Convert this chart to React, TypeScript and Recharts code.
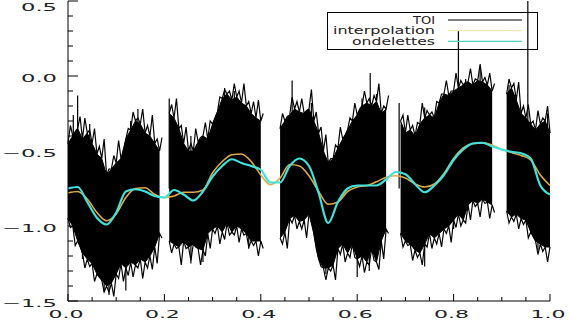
import { ComposedChart, Area, Line, XAxis, YAxis, Legend } from 'recharts';

// TOI signal: top and bottom of the solid noise band, read every 0.01 (null = gap in the data)
const toiHigh = [
  -0.45, -0.4, -0.35, -0.42, -0.38, -0.45, -0.52, -0.55, -0.66, -0.62,
  -0.58, -0.55, -0.42, -0.36, -0.3, -0.32, -0.38, -0.4, -0.45, -0.5,
  null, -0.25, -0.28, -0.35, -0.45, -0.5, -0.5, -0.44, -0.4, -0.42,
  -0.32, -0.24, -0.15, -0.12, -0.16, -0.14, -0.18, -0.2, -0.25, -0.28,
  -0.3, null, null, null, -0.35, -0.3, -0.26, -0.22, -0.24, -0.25,
  -0.22, -0.3, -0.38, -0.5, -0.58, -0.55, -0.48, -0.42, -0.36, -0.3,
  -0.26, -0.2, -0.18, -0.2, -0.17, -0.25, -0.22, null, null, -0.3,
  -0.38, -0.36, -0.4, -0.32, -0.28, -0.26, -0.28, -0.18, -0.12, -0.13,
  -0.1, -0.08, -0.06, -0.04, -0.06, -0.03, -0.04, -0.06, -0.1, null,
  null, -0.12, -0.08, -0.16, -0.25, -0.28, -0.32, -0.36, -0.32, -0.3,
  -0.38,
];
const toiLow = [
  -0.95, -1.0, -1.1, -1.18, -1.22, -1.25, -1.32, -1.36, -1.4, -1.38,
  -1.32, -1.25, -1.28, -1.24, -1.26, -1.22, -1.24, -1.2, -1.14, -1.05,
  null, -1.1, -1.12, -1.14, -1.1, -1.14, -1.12, -1.15, -1.16, -1.05,
  -1.02, -1.0, -1.04, -0.98, -1.04, -1.0, -1.02, -1.05, -1.1, -1.1,
  -1.1, null, null, null, -1.08, -1.04, -0.95, -0.93, -0.97, -0.96,
  -0.92, -1.05, -1.22, -1.28, -1.28, -1.26, -1.15, -1.12, -1.18, -1.12,
  -1.22, -1.2, -1.24, -1.15, -1.24, -1.1, -1.02, null, null, -1.05,
  -1.1, -1.12, -1.16, -1.18, -1.12, -1.05, -1.08, -1.05, -1.02, -1.0,
  -0.96, -0.92, -0.96, -0.86, -0.83, -0.85, -0.82, -0.84, -0.86, null,
  null, -0.9, -0.94, -0.92, -0.95, -0.96, -1.04, -1.1, -1.12, -1.14,
  -1.14,
];
// ragged fringe: outermost sample between two band points (at +0.005)
const toiPeak = [
  -0.33, -0.37, -0.27, -0.28, -0.36, -0.35, -0.47, -0.42, -0.62, -0.53,
  -0.43, -0.52, -0.35, -0.24, -0.28, -0.22, -0.33, -0.26, -0.42, -0.41,
  null, -0.19, -0.15, -0.33, -0.34, -0.45, -0.35, -0.41, -0.31, -0.3,
  -0.28, -0.14, -0.09, -0.1, -0.05, -0.1, -0.05, -0.17, -0.17, -0.16,
  -0.25, null, null, null, -0.25, -0.27, -0.14, -0.17, -0.15, -0.23,
  -0.09, -0.24, -0.34, -0.39, -0.55, -0.46, -0.34, -0.4, -0.28, -0.18,
  -0.22, -0.1, -0.15, -0.13, -0.05, -0.2, -0.13, null, null, -0.26,
  -0.26, -0.33, -0.31, -0.18, -0.23, -0.24, -0.17, -0.12, -0.03, -0.1,
  0.02, -0.03, -0.04, 0.05, -0.02, 0.08, -0.01, 0.02, -0.05, null,
  null, -0.02, -0.05, -0.04, -0.2, -0.19, -0.3, -0.23, -0.28, -0.2,
];
const toiTrough = [
  -1.01, -1.13, -1.13, -1.28, -1.27, -1.37, -1.34, -1.44, -1.44, -1.47,
  -1.35, -1.37, -1.33, -1.34, -1.28, -1.35, -1.28, -1.29, -1.25, -1.08,
  null, -1.18, -1.15, -1.26, -1.15, -1.23, -1.14, -1.26, -1.2, -1.15,
  -1.05, -1.12, -1.09, -1.06, -1.06, -1.11, -1.06, -1.14, -1.13, -1.2,
  -1.15, null, null, null, -1.12, -1.15, -0.98, -1.02, -1.02, -1.08,
  -0.95, -1.15, -1.27, -1.36, -1.3, -1.36, -1.19, -1.24, -1.21, -1.21,
  -1.27, -1.31, -1.26, -1.23, -1.29, -1.22, -1.05, null, null, -1.14,
  -1.13, -1.23, -1.21, -1.26, -1.14, -1.15, -1.12, -1.14, -1.05, -1.11,
  -1.01, -1.0, -0.98, -0.96, -0.87, -0.94, -0.85, -0.95, -0.91, null,
  null, -0.98, -0.97, -1.02, -0.99, -1.08, -1.07, -1.19, -1.17, -1.24,
];

// single noise samples sticking far out of the band: position and tip value
const spikeX = [
  0.011, 0.02, 0.045, 0.13, 0.145, 0.21, 0.255, 0.325, 0.345, 0.465, 0.505, 0.61, 0.627, 0.64,
  0.687, 0.74, 0.81, 0.825, 0.855, 0.915, 0.954, 0.995,
  0.03, 0.075, 0.085, 0.12, 0.255, 0.28, 0.375, 0.535, 0.6, 0.625, 0.74, 0.8, 0.975,
];
const spikeTip = [
  -0.26, -0.13, -0.32, -0.3, -0.22, -0.15, -0.4, -0.08, -0.1, -0.03, -0.18, -0.15, 0.02, -0.12,
  -0.18, -0.21, 0.3, -0.02, 0.05, -0.06, 0.55, -0.25,
  -1.22, -1.44, -1.46, -1.43, -1.25, -1.24, -1.15, -1.32, -1.34, -1.3, -1.27, -1.02, -1.16,
];
const SPIKE_BASE = -0.75;

// smooth reconstructions, read every 0.02
const curveX = [
  0, 0.02, 0.04, 0.06, 0.08, 0.1, 0.12, 0.14, 0.16, 0.18,
  0.2, 0.22, 0.24, 0.26, 0.28, 0.3, 0.32, 0.34, 0.36, 0.38,
  0.4, 0.42, 0.44, 0.46, 0.48, 0.5, 0.52, 0.54, 0.56, 0.58,
  0.6, 0.62, 0.64, 0.66, 0.68, 0.7, 0.72, 0.74, 0.76, 0.78,
  0.8, 0.82, 0.84, 0.86, 0.88, 0.9, 0.92, 0.94, 0.96, 0.98, 1,
];
const interpolation = [
  -0.78, -0.77, -0.82, -0.91, -0.965, -0.92, -0.81, -0.75, -0.745, -0.79,
  -0.81, -0.8, -0.775, -0.775, -0.76, -0.645, -0.57, -0.525, -0.52, -0.57,
  -0.66, -0.725, -0.68, -0.59, -0.6, -0.665, -0.77, -0.855, -0.84, -0.77,
  -0.74, -0.73, -0.705, -0.675, -0.665, -0.68, -0.72, -0.74, -0.72, -0.65,
  -0.55, -0.48, -0.45, -0.446, -0.46, -0.49, -0.51, -0.53, -0.56, -0.66, -0.73,
];
const ondelettes = [
  -0.75, -0.74, -0.84, -0.945, -0.99, -0.91, -0.77, -0.755, -0.77, -0.8,
  -0.81, -0.76, -0.79, -0.83, -0.77, -0.67, -0.6, -0.555, -0.58, -0.6,
  -0.625, -0.71, -0.71, -0.6, -0.55, -0.6, -0.78, -0.98, -0.84, -0.75,
  -0.73, -0.73, -0.73, -0.69, -0.64, -0.655, -0.72, -0.775, -0.73, -0.66,
  -0.56, -0.49, -0.45, -0.445, -0.47, -0.49, -0.505, -0.515, -0.55, -0.73, -0.79,
];

const xTicks = [0, 0.05, 0.1, 0.15, 0.2, 0.25, 0.3, 0.35, 0.4, 0.45, 0.5, 0.55, 0.6, 0.65, 0.7, 0.75, 0.8, 0.85, 0.9, 0.95, 1];
const xMajor = [0, 0.2, 0.4, 0.6, 0.8, 1];
const yTicks = [-1.5, -1.4, -1.3, -1.2, -1.1, -1, -0.9, -0.8, -0.7, -0.6, -0.5, -0.4, -0.3, -0.2, -0.1, 0, 0.1, 0.2, 0.3, 0.4, 0.5];
const yMajor = [-1.5, -1, -0.5, 0, 0.5];

const INTERP = '#e0a848';
const WAVE = '#3fe3dc';
const FONT = '"DejaVu Sans", sans-serif';

const bandData = toiHigh.map((hi, i) => ({
  x: i / 100,
  band: hi === null || toiLow[i] === null ? null : [toiLow[i], hi],
}));
// zig-zag between the band edge and the fringe sample next to it
const fringe = (edge: (number | null)[], outer: (number | null)[]) =>
  edge.flatMap((v, i) => {
    const pts = [{ x: i / 100, f: v }];
    if (i < outer.length) pts.push({ x: i / 100 + 0.005, f: outer[i] });
    return pts;
  });
const topFringe = fringe(toiHigh, toiPeak);
const bottomFringe = fringe(toiLow, toiTrough);
const spikeData = spikeX.flatMap((x, i) => [
  { x, s: SPIKE_BASE },
  { x, s: spikeTip[i] },
  { x, s: null },
]);
const curveData = curveX.map((x, i) => ({ x, interpolation: interpolation[i], ondelettes: ondelettes[i] }));

const isMajor = (list: number[], v: number) => list.some((m) => Math.abs(m - v) < 1e-6);
const yLabel = (v: number) => (v < 0 ? '\u2212' + Math.abs(v).toFixed(1) : v.toFixed(1));

const BottomTick = ({ x, y, payload }: any) => {
  const major = isMajor(xMajor, payload.value);
  return (
    <g>
      <line x1={x} x2={x} y1={y} y2={y - (major ? 7 : 4)} stroke="#000" />
      {major && (
        <text x={x - 2} y={y + 17} textAnchor="middle" textLength={35} lengthAdjust="spacingAndGlyphs"
          fontFamily={FONT} fontSize={10} fill="#222">
          {payload.value.toFixed(1)}
        </text>
      )}
    </g>
  );
};

const TopTick = ({ x, y, payload }: any) => (
  <line x1={x} x2={x} y1={y} y2={y + (isMajor(xMajor, payload.value) ? 7 : 4)} stroke="#000" />
);

const LeftTick = ({ x, y, payload }: any) => {
  const major = isMajor(yMajor, payload.value);
  const label = yLabel(payload.value);
  return (
    <g>
      <line x1={x} x2={x + (major ? 10 : 5)} y1={y} y2={y} stroke="#000" />
      {major && (
        <text x={x - 11} y={Math.max(y + 5.5, 10.5)} textAnchor="end" textLength={label.length > 3 ? 55 : 36}
          lengthAdjust="spacingAndGlyphs" fontFamily={FONT} fontSize={10} fill="#222">
          {label}
        </text>
      )}
    </g>
  );
};

const RightTick = ({ x, y, payload }: any) => (
  <line x1={x} x2={x - (isMajor(yMajor, payload.value) ? 10 : 5)} y1={y} y2={y} stroke="#000" />
);

const legendTint: Record<string, string> = { TOI: '#000', interpolation: '#f3e9b4', ondelettes: '#52d2b8' };
const legendLabelWidth: Record<string, number> = { TOI: 22, interpolation: 102, ondelettes: 83 };

const LegendBox = ({ payload }: any) => (
  <svg width={211} height={38} style={{ display: 'block' }}>
    <rect x={0.5} y={0.5} width={210} height={37} fill="none" stroke="#000" />
    {(payload || [])
      .filter((item: any) => legendTint[item.value])
      .map((item: any, i: number) => {
        const cy = 8 + i * 10.7;
        return (
          <g key={item.value}>
            <text x={108} y={cy + 3.5} textAnchor="end" textLength={legendLabelWidth[item.value]}
              lengthAdjust="spacingAndGlyphs" fontFamily={FONT} fontSize={10} fill="#222">
              {item.value}
            </text>
            <line x1={121} x2={195} y1={cy} y2={cy} stroke={legendTint[item.value]} strokeWidth={1.2} />
          </g>
        );
      })}
  </svg>
);

export default function App() {
  return (
    <>
      <style>{'body{margin:0;background:#fff}'}</style>
      <ComposedChart width={569} height={325} margin={{ top: 1, right: 19, bottom: 0, left: 0 }}>
        <XAxis xAxisId="b" type="number" dataKey="x" domain={[0, 1]} ticks={xTicks} interval={0}
          height={24} tickSize={0} tickMargin={0} tickLine={false} stroke="#000" tick={BottomTick} />
        <XAxis xAxisId="t" orientation="top" type="number" dataKey="x" domain={[0, 1]} ticks={xTicks} interval={0}
          height={0} tickSize={0} tickMargin={0} tickLine={false} stroke="#000" tick={TopTick} />
        <YAxis yAxisId="l" type="number" domain={[-1.5, 0.5]} allowDataOverflow ticks={yTicks} interval={0}
          width={68} tickSize={0} tickMargin={0} tickLine={false} stroke="#000" tick={LeftTick} />
        <YAxis yAxisId="r" orientation="right" type="number" domain={[-1.5, 0.5]} allowDataOverflow ticks={yTicks}
          interval={0} width={0} tickSize={0} tickMargin={0} tickLine={false} stroke="#000" tick={RightTick} />
        <Legend layout="horizontal" verticalAlign="middle" content={LegendBox}
          wrapperStyle={{ position: 'absolute', left: 327, top: 12, width: 211, height: 38 }} />
        <Area xAxisId="b" yAxisId="l" data={bandData} dataKey="band" name="TOI" type="linear" stroke="#000"
          strokeWidth={1} fill="#000" fillOpacity={1} connectNulls={false} dot={false} activeDot={false}
          legendType="line" isAnimationActive={false} />
        <Line xAxisId="b" yAxisId="l" data={topFringe} dataKey="f" name="fringe-top" type="linear" stroke="#000"
          strokeWidth={1.2} dot={false} connectNulls={false} legendType="none" isAnimationActive={false} />
        <Line xAxisId="b" yAxisId="l" data={bottomFringe} dataKey="f" name="fringe-bottom" type="linear" stroke="#000"
          strokeWidth={1.2} dot={false} connectNulls={false} legendType="none" isAnimationActive={false} />
        <Line xAxisId="b" yAxisId="l" data={spikeData} dataKey="s" name="spikes" type="linear" stroke="#000"
          strokeWidth={1.2} dot={false} connectNulls={false} legendType="none" isAnimationActive={false} />
        <Line xAxisId="b" yAxisId="l" data={curveData} dataKey="interpolation" name="interpolation" type="monotone"
          stroke={INTERP} strokeWidth={1.6} dot={false} isAnimationActive={false} />
        <Line xAxisId="b" yAxisId="l" data={curveData} dataKey="ondelettes" name="ondelettes" type="monotone"
          stroke={WAVE} strokeWidth={2.2} dot={false} isAnimationActive={false} />
      </ComposedChart>
    </>
  );
}
